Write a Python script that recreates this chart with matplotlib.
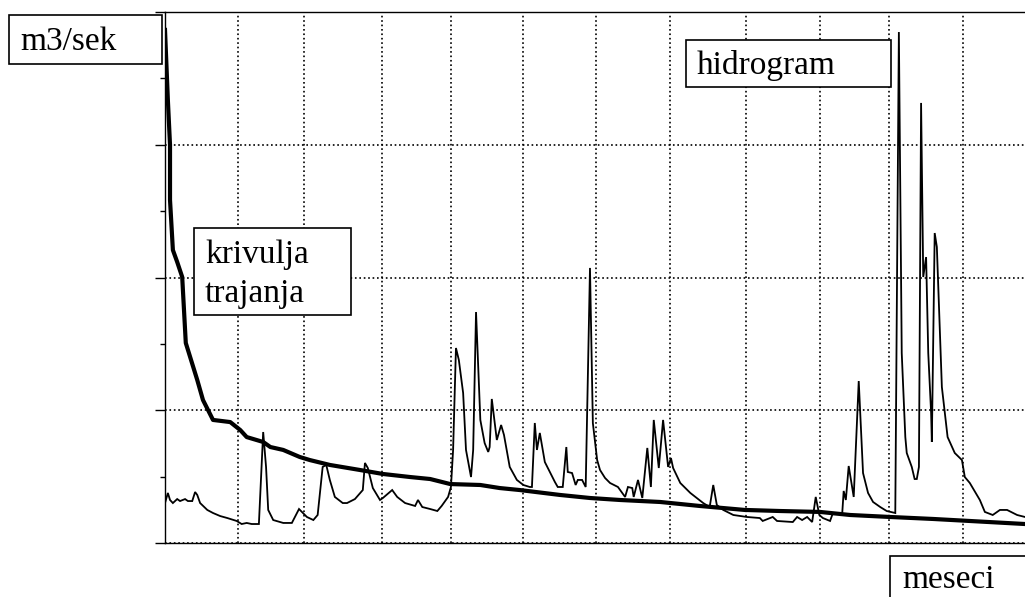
import matplotlib
matplotlib.use('Agg')
import matplotlib.pyplot as plt
from matplotlib.patches import Rectangle
from matplotlib.ticker import MultipleLocator

plt.rcParams['font.family'] = ['Liberation Serif', 'DejaVu Serif']

# month boundaries (x axis runs in months, 0..12)
month_edges = [1.02, 1.94, 3.03, 3.99, 5.00, 6.01, 7.05, 8.11, 9.14, 10.10, 11.13]

# krivulja trajanja (duration curve), m3/sek
dur_x = [0.00, 0.04, 0.07, 0.07, 0.11, 0.17, 0.24, 0.29, 0.45, 0.53, 0.67, 0.91,
         1.05, 1.14, 1.37, 1.47, 1.65, 1.88, 2.02, 2.30, 2.72, 3.04, 3.42, 3.70,
         3.98, 4.40, 4.67, 4.95, 5.51, 5.93, 6.35, 6.91, 7.46, 8.09, 8.58, 9.14,
         9.56, 10.12, 10.72, 12.00]
dur_y = [386.5, 333.7, 299.8, 258.4, 220.7, 211.7, 200.4, 150.7, 122.8, 107.7, 92.7, 91.1,
         85.1, 79.8, 76.1, 72.3, 70.1, 64.8, 62.5, 58.8, 55.0, 52.0, 49.7, 48.2,
         44.4, 43.7, 41.4, 39.9, 36.2, 33.9, 32.4, 30.9, 27.9, 24.9, 24.1, 23.4,
         21.1, 19.6, 18.1, 14.3]

# hidrogram, m3/sek
hyd_x = [0.00, 0.04, 0.07, 0.11, 0.17, 0.21, 0.28, 0.32, 0.38, 0.42, 0.45, 0.49,
         0.59, 0.67, 0.77, 0.87, 1.00, 1.07, 1.14, 1.21, 1.31, 1.37, 1.41, 1.44,
         1.51, 1.65, 1.77, 1.87, 1.98, 2.07, 2.13, 2.20, 2.25, 2.30, 2.37, 2.48,
         2.54, 2.65, 2.76, 2.79, 2.83, 2.90, 3.00, 3.04, 3.17, 3.24, 3.35, 3.49,
         3.53, 3.59, 3.70, 3.80, 3.86, 3.95, 3.99, 4.02, 4.06, 4.10, 4.16, 4.20,
         4.27, 4.30, 4.34, 4.40, 4.46, 4.51, 4.53, 4.56, 4.63, 4.69, 4.73, 4.81,
         4.91, 5.00, 5.09, 5.12, 5.16, 5.19, 5.23, 5.30, 5.37, 5.44, 5.48, 5.55,
         5.60, 5.62, 5.68, 5.73, 5.76, 5.82, 5.87, 5.93, 5.97, 6.03, 6.07, 6.14,
         6.21, 6.32, 6.42, 6.46, 6.52, 6.54, 6.60, 6.66, 6.73, 6.78, 6.82, 6.89,
         6.95, 7.02, 7.06, 7.09, 7.19, 7.33, 7.51, 7.60, 7.65, 7.70, 7.79, 7.93,
         8.12, 8.30, 8.34, 8.48, 8.54, 8.76, 8.82, 8.89, 8.96, 9.03, 9.08, 9.13,
         9.18, 9.28, 9.32, 9.45, 9.47, 9.50, 9.54, 9.61, 9.68, 9.74, 9.81, 9.88,
         9.98, 10.07, 10.19, 10.24, 10.28, 10.33, 10.35, 10.42, 10.46, 10.49, 10.52, 10.55,
         10.58, 10.62, 10.65, 10.69, 10.70, 10.74, 10.77, 10.84, 10.92, 11.02, 11.12, 11.16,
         11.23, 11.37, 11.44, 11.55, 11.65, 11.75, 11.89, 12.00]
hyd_y = [30.1, 37.7, 32.4, 30.1, 33.1, 31.6, 33.1, 31.6, 31.6, 38.4, 36.2, 30.1,
         24.9, 22.6, 20.3, 18.8, 16.6, 14.3, 15.1, 14.3, 14.3, 83.6, 57.3, 24.9,
         17.3, 15.1, 15.1, 25.6, 19.6, 17.3, 21.1, 57.3, 58.8, 47.5, 34.7, 30.1,
         30.1, 33.1, 39.9, 60.3, 56.5, 41.4, 32.4, 33.9, 39.9, 34.7, 30.1, 27.9,
         32.4, 27.1, 25.6, 24.1, 27.9, 34.7, 42.2, 70.1, 146.9, 137.9, 113.0, 70.1,
         49.7, 70.1, 174.0, 92.7, 75.3, 68.6, 72.3, 108.5, 77.6, 88.9, 81.4, 57.3,
         47.5, 43.7, 42.2, 42.2, 90.4, 70.1, 82.9, 61.0, 53.5, 46.0, 42.2, 42.2,
         72.3, 53.5, 52.7, 43.7, 47.5, 47.5, 42.2, 207.2, 90.4, 62.5, 55.0, 49.0,
         45.2, 42.2, 34.7, 42.2, 41.4, 34.7, 47.5, 33.9, 71.6, 42.2, 92.7, 56.5,
         92.7, 57.3, 64.0, 56.5, 45.2, 37.7, 30.1, 27.1, 43.7, 28.6, 24.9, 21.1,
         19.6, 18.8, 16.6, 19.6, 16.6, 15.8, 19.6, 17.3, 19.6, 15.8, 34.7, 21.1,
         18.8, 16.6, 22.6, 22.6, 39.2, 32.4, 58.0, 34.7, 122.0, 52.7, 37.7, 30.9,
         27.1, 24.1, 22.6, 384.9, 143.1, 79.8, 67.8, 57.3, 48.2, 48.2, 57.3, 331.5,
         200.4, 215.4, 143.1, 97.9, 76.1, 233.5, 223.0, 117.5, 79.8, 67.8, 62.5, 49.7,
         45.2, 32.4, 23.4, 21.1, 24.9, 24.9, 21.1, 19.6]

W, H = 1025, 597
fig = plt.figure(figsize=(W / 100, H / 100), dpi=100)
ax = fig.add_axes([165 / W, 1 - 543 / H, (W - 165) / W, (543 - 12) / H])

ax.plot(hyd_x, hyd_y, color='black', lw=1.3, solid_joinstyle='miter', zorder=3)
ax.plot(dur_x, dur_y, color='black', lw=3.0, zorder=4)

ax.set_xlim(0, 12)
ax.set_ylim(0, 400)
ax.set_xticks(month_edges)
ax.yaxis.set_major_locator(MultipleLocator(100))
ax.yaxis.set_minor_locator(MultipleLocator(50))
ax.tick_params(axis='x', length=0, labelbottom=False)
ax.tick_params(axis='y', which='major', length=7, width=1, direction='out', labelleft=False)
ax.tick_params(axis='y', which='minor', length=3.5, width=1, direction='out')
ax.grid(True, color='black', linestyle=':', linewidth=1.2)
ax.spines['right'].set_visible(False)
for s in ('left', 'top', 'bottom'):
    ax.spines[s].set_linewidth(1.0)


def label_box(x0, y0, x1, y1):
    fig.add_artist(Rectangle((x0 / W, 1 - y1 / H), (x1 - x0) / W, (y1 - y0) / H,
                             transform=fig.transFigure, facecolor='white',
                             edgecolor='black', lw=1.2, zorder=10, clip_on=False))


def label_text(x, y, s):
    fig.text(x / W, 1 - y / H, s, fontsize=24, va='baseline', ha='left', zorder=11)


label_box(9, 15, 162, 64)
label_text(20, 50, 'm3/sek')

label_box(686, 40, 891, 87)
label_text(697, 74, 'hidrogram')

label_box(194, 228, 351, 315)
label_text(205, 263, 'krivulja')
label_text(205, 302, 'trajanja')

label_box(890, 556, 1040, 610)
label_text(902, 588, 'meseci')

fig.savefig('out.png', dpi=100)
